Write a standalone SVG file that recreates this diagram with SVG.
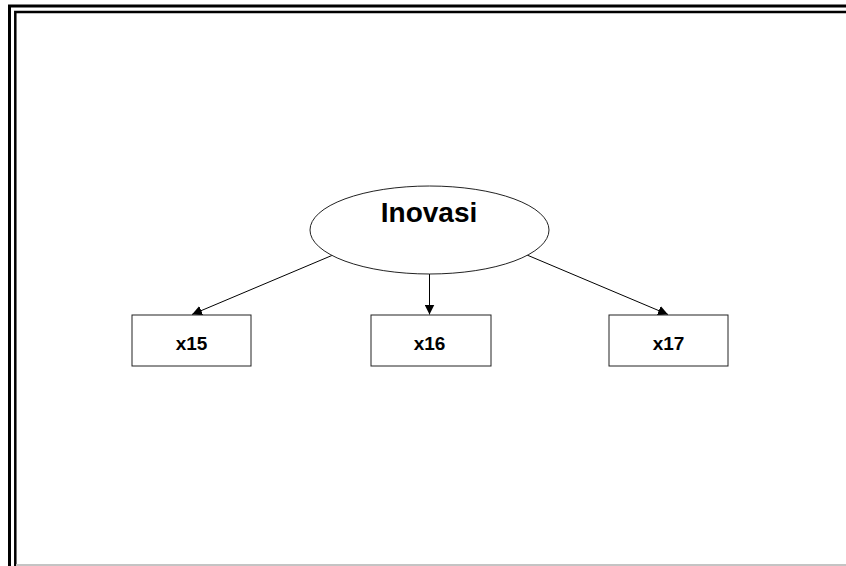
<svg xmlns="http://www.w3.org/2000/svg" width="846" height="566" viewBox="0 0 846 566">
  <style>
    .frame { fill: none; stroke: #000; }
    .node { fill: #fff; stroke: #222; stroke-width: 1; }
    .lbl { font-family: "Liberation Sans", Arial, sans-serif; font-weight: bold; fill: #000; text-anchor: middle; }
    .edge { fill: none; stroke: #000; stroke-width: 1; marker-end: url(#arrow); }
  </style>
  <defs>
    <marker id="arrow" viewBox="0 0 10 10" refX="10" refY="5" markerWidth="10" markerHeight="10" markerUnits="userSpaceOnUse" orient="auto">
      <path d="M0,0 L10,5 L0,10 Z" fill="#000"/>
    </marker>
  </defs>

  <rect width="846" height="566" fill="#fff"/>

  <!-- double page frame -->
  <path class="frame" d="M9.5,566 V6 H846" stroke-width="3"/>
  <path class="frame" d="M15.3,566 V12 H846" stroke-width="2.5"/>
  <line x1="16" y1="565" x2="846" y2="565" stroke="#c4c4c4" stroke-width="2"/>

  <!-- connectors -->
  <g id="connectors">
    <line class="edge" x1="333" y1="255" x2="192" y2="314.5"/>
    <line class="edge" x1="429.5" y1="274" x2="429.5" y2="314.5"/>
    <line class="edge" x1="527" y1="255" x2="668" y2="314.5"/>
  </g>

  <g id="inovasi">
    <ellipse class="node" cx="429.5" cy="230" rx="119.5" ry="44"/>
    <text class="lbl" x="429" y="222" font-size="28">Inovasi</text>
  </g>

  <g id="x15">
    <rect class="node" x="132" y="315" width="119" height="51"/>
    <text class="lbl" x="191.5" y="350" font-size="19">x15</text>
  </g>

  <g id="x16">
    <rect class="node" x="371" y="315" width="120" height="51"/>
    <text class="lbl" x="429.5" y="350" font-size="19">x16</text>
  </g>

  <g id="x17">
    <rect class="node" x="609" y="315" width="119" height="51"/>
    <text class="lbl" x="668.5" y="350" font-size="19">x17</text>
  </g>
</svg>
